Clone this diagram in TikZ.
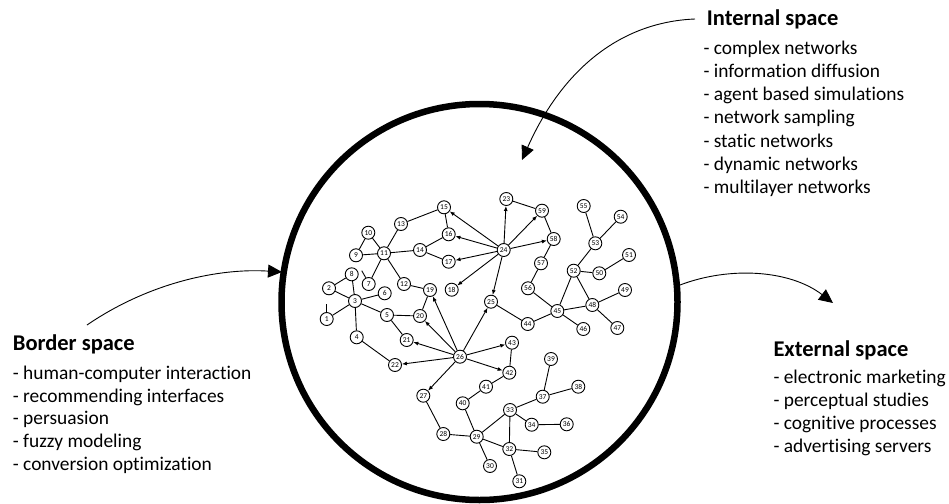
\documentclass[tikz,border=0pt]{standalone}
\usepackage{fontspec}
\setmainfont{Carlito}[Ligatures=NoCommon]
\usetikzlibrary{arrows.meta}
\tikzset{
  gn/.style={circle, draw, line width=0.9pt, fill=white, minimum size=13pt, inner sep=0pt, font=\fontsize{7.5}{7.5}\selectfont},
  ge/.style={line width=0.9pt},
  ga/.style={line width=0.9pt, -{Latex[length=5pt,width=4pt]}},
  bigarrow/.style={line width=0.9pt, -{Triangle[length=14pt,width=13pt]}},
  ttl/.style={anchor=base west, inner sep=0pt, font=\fontsize{22.5}{24}\selectfont\bfseries},
  itm/.style={anchor=base west, inner sep=0pt, font=\fontsize{19.4}{22}\selectfont},
}
\begin{document}
\begin{tikzpicture}[x=1pt,y=-1pt]
\useasboundingbox (0,0) rectangle (949,503);
\node[circle, draw, line width=6.5pt, minimum size=396pt, inner sep=0pt] (space) at (479.5,302) {};
% nodes
\foreach \n/\x/\y in {1/326.7/319, 2/329/288.3, 3/355/301, 4/356.7/337.3, 5/387/315, 6/384.7/293.3, 7/368.7/284, 8/351.7/274.3, 9/356/255.3, 10/368.3/232.7, 11/384/253.3, 12/404/284, 13/401/224, 14/420/250, 15/444/207.3, 16/448.7/234.3, 17/448.7/261.7, 18/451.7/289.7, 19/430/290, 20/420/316, 21/406.7/340, 22/395/365, 23/506.3/199, 24/503.7/250, 25/491/301.7, 26/460/356.7, 27/423.3/395.7, 28/443.3/434, 29/476.7/436.7, 30/490/466, 31/519.3/481.3, 32/509.3/449, 33/510/410, 34/531.7/424.7, 35/544.3/452.3, 36/566.7/424.3, 37/542.7/396.7, 38/578.3/386.7, 39/551/359, 40/462.7/403.3, 41/486/386.7, 42/509.3/372.7, 43/512/342.7, 44/527.7/324, 45/557.3/311, 46/583.3/329, 47/617.3/328, 48/592.3/305, 49/625/290, 50/599.3/273.3, 51/629/255, 52/573.7/270.7, 53/595.3/243.3, 54/620.7/216.7, 55/583.7/206, 56/528/288.3, 57/541/263.3, 58/553.7/239, 59/542/210.7}
  \node[gn] (n\n) at (\x,\y) {\n};
% undirected edges
\foreach \a/\b in {1/3, 2/3, 2/8, 3/8, 3/6, 3/4, 3/5, 4/22, 5/20, 5/21, 9/11, 9/10, 10/11, 11/13, 11/14, 11/7, 11/12, 12/19, 13/15, 14/16, 14/17, 15/16, 19/20, 23/59, 59/58, 58/57, 57/56, 56/45, 25/44, 44/45, 45/52, 45/48, 45/46, 52/48, 52/50, 52/53, 50/51, 53/55, 53/54, 48/49, 48/47, 43/42, 42/41, 41/40, 40/29, 27/28, 28/29, 29/33, 29/32, 29/30, 33/32, 33/34, 33/37, 34/36, 37/39, 37/38, 32/35, 32/31}
  \draw[ge] (n\a) -- (n\b);
% directed edges
\foreach \b in {15,16,17,18,23,59,58,25}
  \draw[ga] (n24) -- (n\b);
\foreach \b in {19,20,21,22,25,43,42,27}
  \draw[ga] (n26) -- (n\b);
% small stubs
\draw[ge] (n1.north) -- ++(0,-8);
\draw[ge] (n7.115) -- ++(-4,-7);
% texts
\node[ttl] (inttitle) at (706.7,26) {Internal space};
\foreach \t [count=\i] in {complex networks, information diffusion, agent based simulations, network sampling, static networks, dynamic networks, multilayer networks}
  \node[itm] (int\i) at (703.3,{54+(\i-1)*23.3}) {- \t};
\node[ttl] (bordtitle) at (12.7,350) {Border space};
\foreach \t [count=\i] in {human-computer interaction, recommending interfaces, persuasion, fuzzy modeling, conversion optimization}
  \node[itm] (bord\i) at (12.7,{379.3+(\i-1)*22.7}) {- \t};
\node[ttl] (exttitle) at (773.3,356) {External space};
\foreach \t [count=\i] in {electronic marketing, perceptual studies, cognitive processes, advertising servers}
  \node[itm] (ext\i) at (773.3,{383.3+(\i-1)*23}) {- \t};
% big arrows
\coordinate (intStart) at (695,19);
\coordinate (intTip) at (522,160);
\draw[bigarrow] (intStart) .. controls (620,22) and (562,70) .. (intTip);
\coordinate (bordStart) at (87,325);
\coordinate (bordTip) at (282,272);
\draw[bigarrow] (bordStart) .. controls (150,282) and (220,268) .. (bordTip);
\coordinate (extStart) at (680,285);
\coordinate (extTip) at (833,303);
\draw[bigarrow] (extStart) .. controls (730,266) and (790,270) .. (extTip);
\end{tikzpicture}
\end{document}
